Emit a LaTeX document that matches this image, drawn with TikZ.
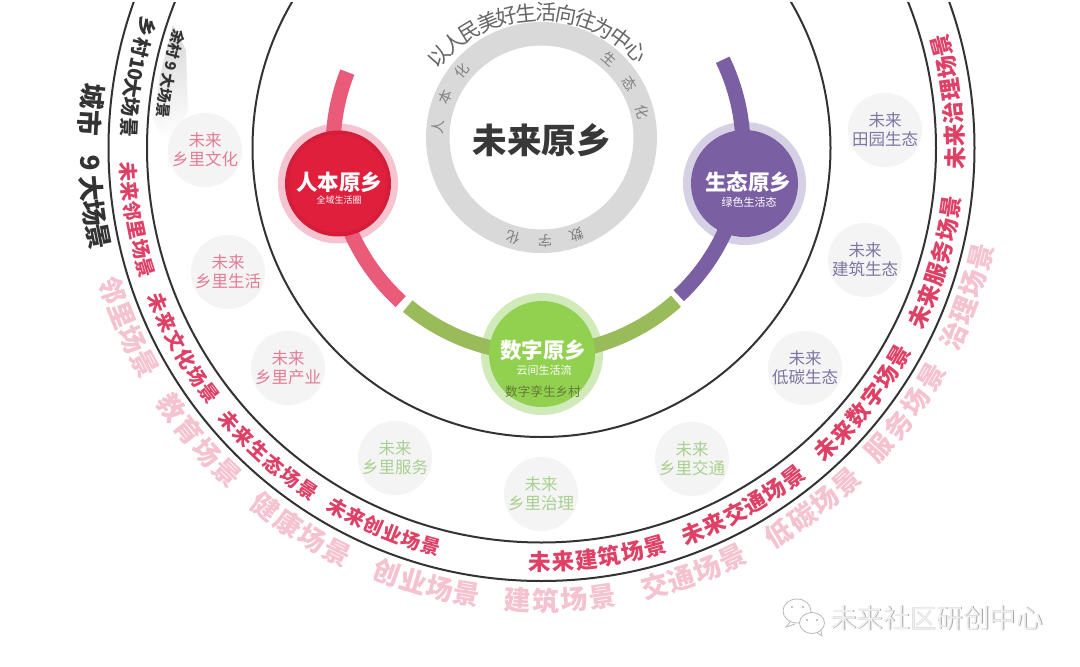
\documentclass[tikz,border=0pt]{standalone}
\usepackage{fontspec}
\setmainfont{Noto Sans CJK SC}
\definecolor{ringline}{HTML}{333333}
\definecolor{ringgray}{HTML}{D9D9D9}
\definecolor{redarc}{HTML}{E95B78}
\definecolor{redcore}{HTML}{E01F3D}
\definecolor{redhalo}{HTML}{F6C4D0}
\definecolor{purplearc}{HTML}{7B5FA3}
\definecolor{purplehalo}{HTML}{D6D0E4}
\definecolor{greenarc}{HTML}{9ABB59}
\definecolor{greencore}{HTML}{92D150}
\definecolor{greenhalo}{HTML}{D0EABA}
\definecolor{sceneRed}{HTML}{DE4066}
\definecolor{scenePink}{HTML}{F5C2D0}
\definecolor{bubble}{HTML}{F4F4F4}
\definecolor{txtPink}{HTML}{E27C96}
\definecolor{txtGreen}{HTML}{A9D08F}
\definecolor{txtPurple}{HTML}{7F75A3}
\tikzset{
  chr/.style={inner sep=0pt,outer sep=0pt},
  fs/.style={font=\fontsize{#1}{#1}\selectfont},
  fsb/.style={font=\bfseries\fontsize{#1}{#1}\selectfont},
  pinkword/.style={chr,fsb=27,text=scenePink},
  redsmall/.style={chr,fsb=19.5,text=sceneRed},
  redbig/.style={chr,fsb=22.5,text=sceneRed},
  ringchar/.style={chr,fs=14,text=black!50},
  topchar/.style={chr,fs=21,text=black!60},
  spot/.style={circle,fill=bubble,minimum size=70pt,inner sep=0pt,align=center,font=\fontsize{16.5}{19}\selectfont},
  halo/.style={circle,minimum size=#1,inner sep=0pt},
  core/.style={circle,minimum size=#1,inner sep=0pt},
  title/.style={chr,fsb=21.5,text=white},
  subtitle/.style={chr,fs=#1,text=white},
  band/.style={line width=15pt,line cap=butt},
  bigring/.style={draw=ringline,line width=2pt},
}
% #1 name, #2 cx, #3 cy, #4 r, #5 start, #6 step, #7 style, #8 list, #9 base angle
\newcommand{\arcword}[9]{%
  \foreach \chr [count=\idx from 0] in {#8} {%
    \pgfmathsetmacro\thA{#5+\idx*(#6)}%
    \pgfmathsetmacro\rotA{#9-\thA}%
    \node[#7,rotate=\rotA] (#1-\idx) at ({#2+#4*cos(\thA)},{#3+#4*sin(\thA)}) {\chr};
  }%
}
\begin{document}
\begin{tikzpicture}[x=1pt,y=-1pt]
\useasboundingbox (0,0) rectangle (1080,667);
\fill[white] (0,0) rectangle (1080,667);

% fold shadow behind the village heading
\shade[left color=black!15,right color=white,shading angle=20]
  (173,25) -- (160,75) -- (154,122) -- (170,147) -- (188,110) -- (186,50) -- cycle;

% big rings
\begin{scope}
\clip (0,2) rectangle (1080,667);
\draw[bigring] (541.5,148) circle [radius=289pt];
\draw[bigring] (541.5,148) circle [radius=394.5pt];
\draw[bigring] (541.5,148) circle [radius=433pt];
\end{scope}

% centre ring
\draw[ringgray,line width=23.5pt] (541.5,137.5) circle [radius=103.75pt];
\arcword{top}{540}{148}{136}{222}{8.45}{topchar}{以,人,民,美,好,生,活,向,往,为,中,心}{270}
\arcword{rb}{541.5}{137.5}{104}{186}{17}{ringchar}{人,本,化}{270}
\arcword{st}{541.5}{137.5}{104}{311}{17.5}{ringchar}{生,态,化}{270}
\arcword{sz}{541.5}{137.5}{104}{70}{18}{ringchar}{数,字,化}{270}
\node[chr,fsb=34.5,text=black!78] (core) at (541.5,140) {未来原乡};

% halos
\node[halo=120pt,fill=redhalo] (hr) at (338,183.5) {};
\node[halo=123pt,fill=purplehalo] (hp) at (744.5,183.5) {};
\node[halo=122pt,fill=greenhalo] (hg) at (542,354) {};

% bands
\draw[band,redarc] plot[domain=132.4:201.4,samples=70] ({541+208*cos(\x)},{148+208*sin(\x)});
\draw[band,purplearc] plot[domain=-25.9:47,samples=70] ({541+202*cos(\x)},{148+202*sin(\x)});
\draw[band,greenarc] plot[domain=48.2:129.7,samples=70] ({539+205.5*cos(\x)},{148+205.5*sin(\x)});

% cores
\node[core=106pt,fill=redcore!94!black] (cr) at (338,183.5) {};
\node[core=98pt,fill=redcore] (cr2) at (338,183.5) {};
\node[core=107pt,fill=purplearc] (cp) at (744.5,183.5) {};
\node[core=106pt,fill=greencore] (cg) at (542,354) {};

\node[title] (t1) at (339,182) {人本原乡};
\node[subtitle=9] (s1) at (339,200) {全域生活圈};
\node[title] (t2) at (748,182) {生态原乡};
\node[subtitle=11] (s2) at (749,202) {绿色生活态};
\node[title] (t3) at (543,350) {数字原乡};
\node[subtitle=11] (s3) at (544,370) {云间生活流};
\node[chr,fs=12.6,text=black!35!greenarc] (s4) at (543,392) {数字孪生乡村};

% spots
\node[spot,text=txtPink] (p1) at (205,150) {未来\\乡里文化};
\node[spot,text=txtPink] (p2) at (228,272) {未来\\乡里生活};
\node[spot,text=txtPink] (p3) at (288,368) {未来\\乡里产业};
\node[spot,text=txtGreen] (p4) at (395,458) {未来\\乡里服务};
\node[spot,text=txtGreen] (p5) at (541,494) {未来\\乡里治理};
\node[spot,text=txtGreen] (p6) at (692,459) {未来\\乡里交通};
\node[spot,text=txtPurple] (p7) at (805,368) {未来\\低碳生态};
\node[spot,text=txtPurple] (p8) at (865,260) {未来\\建筑生态};
\node[spot,text=txtPurple] (p9) at (885,130) {未来\\田园生态};

% headings
\arcword{yc}{541.5}{148}{380}{197}{-2.26}{chr,fsb=15,text=black!80}{余,村,9,大,场,景}{90}
\foreach \ang/\txt [count=\n] in {197.1/乡,194.1/村,191/10,188.3/大,185.7/场,182.8/景}{
  \pgfmathsetmacro\rotA{90-\ang}
  \node[chr,fsb=19.5,text=black!80,rotate=\rotA] (xc\n) at ({541.5+413*cos(\ang)},{148+413*sin(\ang)}) {\txt};
}
\foreach \ang/\txt [count=\n] in {186.5/城,183.2/市,178.1/9,174.9/大,171.7/场,168.7/景}{
  \pgfmathsetmacro\rotA{90-\ang}
  \node[chr,fsb=26,text=black!80,rotate=\rotA] (cs\n) at ({541.5+452*cos(\ang)},{148+452*sin(\ang)}) {\txt};
}

% red scenes
\arcword{r1}{541.5}{148}{413.5}{176.7}{-2.7}{redsmall}{未,来,邻,里,场,景}{90}
\arcword{r2}{541.5}{148}{413.5}{158}{-2.88}{redsmall}{未,来,文,化,场,景}{90}
\arcword{r3}{541.5}{148}{414.5}{138.8}{-2.88}{redsmall}{未,来,生,态,场,景}{90}
\arcword{r4}{541.5}{148}{413.5}{119.6}{-2.8}{redsmall}{未,来,创,业,场,景}{90}
\arcword{r5}{541.5}{148}{414}{90.2}{-3.22}{redbig}{未,来,建,筑,场,景}{90}
\arcword{r6}{541.5}{148}{414}{68.5}{-3.18}{redbig}{未,来,交,通,场,景}{90}
\arcword{r7}{541.5}{148}{414}{46.6}{-3.28}{redbig}{未,来,数,字,场,景}{90}
\arcword{r8}{541.5}{148}{414}{24.1}{-3.18}{redbig}{未,来,服,务,场,景}{90}
\arcword{r9}{541.5}{148}{413.5}{1.4}{-3.16}{redbig}{未,来,治,理,场,景}{90}

% pale city scenes
\arcword{c1}{541.5}{148}{452}{161.7}{-3.4}{pinkword}{邻,里,场,景}{90}
\arcword{c2}{541.5}{148}{452}{145}{-3.67}{pinkword}{教,育,场,景}{90}
\arcword{c3}{541.5}{148}{453}{127.6}{-3.6}{pinkword}{健,康,场,景}{90}
\arcword{c4}{541.5}{148}{452}{110}{-3.5}{pinkword}{创,业,场,景}{90}
\arcword{c5}{541.5}{148}{453}{93}{-3.57}{pinkword}{建,筑,场,景}{90}
\arcword{c6}{541.5}{148}{452.5}{75.5}{-3.5}{pinkword}{交,通,场,景}{90}
\arcword{c7}{541.5}{148}{452.5}{58.4}{-3.6}{pinkword}{低,碳,场,景}{90}
\arcword{c8}{541.5}{148}{452}{41.6}{-3.73}{pinkword}{服,务,场,景}{90}
\arcword{c9}{541.5}{148}{452.5}{24.5}{-3.53}{pinkword}{治,理,场,景}{90}

% watermark
\draw[black!28,fill=white,line width=0.8pt] (797,611) ellipse [x radius=14pt,y radius=12pt];
\draw[black!28,line width=0.8pt] (790,622) -- (786,627) -- (795,624);
\draw[black!28,fill=white,line width=0.8pt] (812,623) ellipse [x radius=12.5pt,y radius=10.5pt];
\draw[black!28,line width=0.8pt] (817,632.5) -- (822,636) -- (821,630);
\foreach \dx/\dy [count=\n] in {792/607,803/607,807/620,817/620}{
  \fill[black!30] (\dx,\dy) circle [radius=1.1pt];
}
\node[chr,fs=26.6,text=black!35] (wmS) at (937.5,618.7) {未来社区研创中心};
\node[chr,fs=26.6,text=black!6] (wm) at (936.7,618) {未来社区研创中心};
\end{tikzpicture}
\end{document}
